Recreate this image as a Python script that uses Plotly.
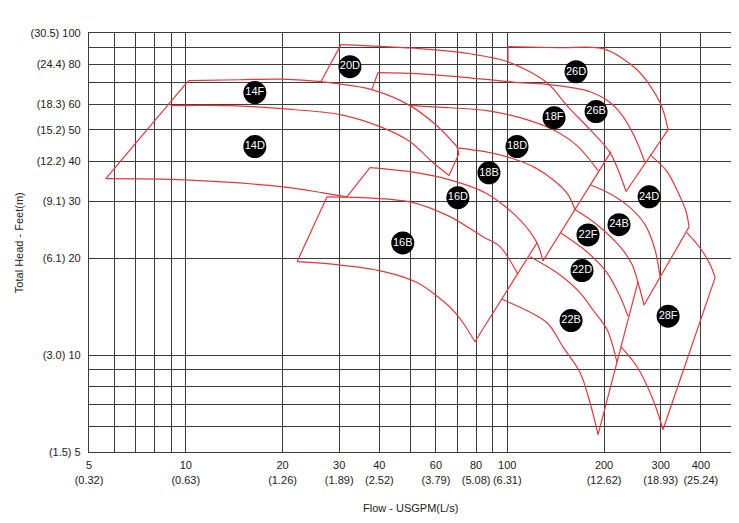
import plotly.graph_objects as go
import math

# ---------------- data (flow USGPM, head ft) ----------------
x_tickvals = [5, 6, 7, 8, 9, 10, 20, 30, 40, 50, 60, 70, 80, 90, 100, 200, 300, 400]
x_ticktext = ["5<br>(0.32)", "", "", "", "", "10<br>(0.63)", "20<br>(1.26)", "30<br>(1.89)",
              "40<br>(2.52)", "", "60<br>(3.79)", "", "80<br>(5.08)", "", "100<br>(6.31)",
              "200<br>(12.62)", "300<br>(18.93)", "400<br>(25.24)"]
y_tickvals = [5, 6, 7, 8, 9, 10, 20, 30, 40, 50, 60, 70, 80, 90, 100]
y_ticktext = ["(1.5) 5", "", "", "", "", "(3.0) 10", "(6.1) 20", "(9.1) 30", "(12.2) 40",
              "(15.2) 50", "(18.3) 60", "", "(24.4) 80", "", "(30.5) 100"]

# curves (smooth) as (flow, head)
curve_14F_top = [(10.2, 71.1), (14.7, 71.6), (20.0, 71.9), (26.3, 70.6), (37.9, 66.7), (49.8, 59.5), (60.4, 51.5), (69.7, 44.4)]
curve_14_mid = [(8.98, 59.5), (13.7, 59.5), (20.0, 58.2), (30.2, 55.8), (40.2, 51.2), (49.8, 46.0), (58.7, 39.6), (65.9, 36.1)]
curve_14D_bot = [(5.64, 35.3), (9.93, 35.0), (20.0, 33.3), (26.7, 31.9), (31.7, 31.0)]
curve_20D_top = [(30.4, 92.0), (53.5, 89.4), (76.5, 86.2), (100.5, 81.4), (132.9, 70.1), (154.5, 59.0), (180.9, 50.1), (208.8, 42.5), (234.1, 32.2)]
curve_26D_top = [(100.5, 90.7), (145.9, 90.0), (198.6, 89.4), (253.3, 76.9), (298.7, 60.8), (316.4, 50.1)]
curve_18F_top = [(39.6, 75.3), (53.5, 74.7), (76.5, 72.6), (109.5, 70.1), (135.8, 69.1), (180.9, 65.7), (208.8, 60.8), (229.1, 55.0), (249.7, 47.3), (268.2, 39.6)]
curve_18_mid1 = [(49.8, 59.5), (66.3, 58.6), (86.5, 57.4), (109.5, 54.6), (138.8, 50.1), (164.8, 44.7), (191.6, 37.4)]
curve_18_mid2 = [(69.7, 44.0), (85.2, 42.8), (102.0, 41.0), (122.0, 38.2), (138.8, 35.0), (154.5, 31.5), (162.4, 28.3)]
curve_16D_top = [(37.4, 38.2), (49.8, 37.1), (66.3, 35.0), (86.5, 31.7), (109.5, 26.3), (123.7, 22.3), (129.1, 19.6)]
curve_16B_top = [(27.5, 31.0), (49.8, 29.9), (66.3, 26.9), (84.0, 23.3), (94.9, 21.7), (108.0, 17.8)]
curve_16B_bot = [(22.2, 19.5), (29.5, 19.1), (41.0, 18.2), (52.4, 16.8), (66.3, 14.1), (72.8, 12.6), (79.3, 11.0)]
curve_22B_bot = [(96.3, 14.9), (132.9, 12.6), (149.0, 10.6), (168.4, 8.82), (180.9, 7.11), (191.6, 5.66)]
curve_22_mid1 = [(117.7, 20.2), (142.8, 18.0), (168.4, 15.6), (184.8, 13.8), (204.4, 12.0), (219.5, 9.47)]
curve_22_mid2 = [(145.9, 24.0), (177.0, 20.9), (204.4, 18.0), (224.3, 15.2), (237.5, 13.2)]
curve_22F_top = [(162.4, 28.3), (190.2, 25.4), (224.3, 21.7), (244.4, 19.1), (255.1, 16.8), (266.3, 14.3)]
curve_24D_top = [(278.0, 41.9), (314.1, 37.1), (344.8, 31.0), (359.9, 27.9), (367.7, 25.0)]
curve_24_mid = [(180.9, 33.8), (208.8, 31.7), (241.0, 28.7), (268.2, 25.4), (288.2, 21.2), (298.7, 17.5)]
curve_28F_top = [(362.0, 24.0), (397.9, 21.5), (427.5, 19.1), (443.1, 17.4)]
curve_28F_bot = [(225.9, 10.6), (253.3, 9.20), (284.1, 7.27), (305.1, 5.87)]

# straight edges as (flow, head)
edge_14_left = [(5.64, 35.3), (10.2, 71.1)]
edge_14_right = [(69.7, 44.4), (70.7, 42.2), (65.9, 36.1)]
edge_20_left = [(26.3, 70.6), (30.4, 92.0)]
edge_26_left = [(100.5, 90.7), (100.5, 81.4)]
edge_26_right = [(316.4, 50.1), (234.1, 32.2)]
edge_18_left = [(37.9, 66.7), (39.6, 75.3)]
edge_18_right = [(129.1, 19.6), (210.3, 42.8)]
edge_16D_left = [(31.7, 31.0), (37.4, 38.2)]
edge_16B_left = [(22.2, 19.5), (27.5, 31.0)]
edge_16_right = [(79.3, 11.0), (123.7, 22.3)]
edge_22_right = [(191.6, 5.66), (255.1, 16.9)]
edge_24_right = [(367.7, 25.0), (266.3, 14.3)]
edge_28_right = [(443.1, 17.4), (305.1, 5.87)]

labels = ["14F", "14D", "20D", "26D", "26B", "18F", "18D", "18B", "16D", "16B",
          "24D", "24B", "22F", "22D", "22B", "28F"]
label_flow = [16.4, 16.4, 32.4, 163.6, 188.9, 139.8, 107.2, 87.7, 70.2, 47.3,
              276.1, 222.6, 178.3, 170.8, 157.9, 316.4]
label_head = [65.3, 44.4, 78.6, 75.8, 57.0, 54.6, 44.4, 36.8, 30.8, 22.3,
              31.0, 25.4, 23.6, 18.3, 12.8, 13.2]

# ---------------- figure ----------------
RED = "#e5383b"
GRID = "#3c3c3c"
FONT = "Liberation Sans, Arial, Helvetica, sans-serif"

curves = [curve_14F_top, curve_14_mid, curve_14D_bot, curve_20D_top, curve_26D_top,
          curve_18F_top, curve_18_mid1, curve_18_mid2, curve_16D_top, curve_16B_top,
          curve_16B_bot, curve_22B_bot, curve_22_mid1, curve_22_mid2, curve_22F_top,
          curve_24D_top, curve_24_mid, curve_28F_top, curve_28F_bot]
edges = [edge_14_left, edge_14_right, edge_20_left, edge_26_left, edge_26_right,
         edge_18_left, edge_18_right, edge_16D_left, edge_16B_left, edge_16_right,
         edge_22_right, edge_24_right, edge_28_right]

fig = go.Figure()
for c in curves:
    fig.add_trace(go.Scatter(x=[p[0] for p in c], y=[p[1] for p in c], mode="lines",
                             line=dict(color=RED, width=1.2, shape="spline", smoothing=0.9),
                             hoverinfo="skip", showlegend=False))
for e in edges:
    fig.add_trace(go.Scatter(x=[p[0] for p in e], y=[p[1] for p in e], mode="lines",
                             line=dict(color=RED, width=1.2), hoverinfo="skip", showlegend=False))

fig.add_trace(go.Scatter(x=label_flow, y=label_head, mode="markers+text", text=labels,
                         textposition="middle center",
                         textfont=dict(color="white", size=11, family=FONT),
                         marker=dict(size=23, color="black"), hoverinfo="skip", showlegend=False))

# page body has an 8px margin: compensate so the plot lands on the reference pixels
OFF = 8
L, R, T, B = 89.3 - OFF, 7.1, 33.3 - OFF, 70.7
W, H = 739 - OFF, 523 - OFF
pw, ph = W - L - R, H - T - B

fig.update_layout(
    width=W, height=H, autosize=False,
    margin=dict(l=L, r=R, t=T, b=B, pad=0),
    paper_bgcolor="white", plot_bgcolor="white",
    font=dict(family=FONT, size=11, color="#222222"),
    xaxis=dict(type="log", range=[math.log10(5), math.log10(500)], tickmode="array",
               tickvals=x_tickvals, ticktext=x_ticktext, showgrid=True, gridcolor=GRID,
               gridwidth=1.2, showline=True, mirror=True, linecolor=GRID, linewidth=1.2,
               ticks="", zeroline=False, ticklabelstandoff=3),
    yaxis=dict(type="log", range=[math.log10(5), 2], tickmode="array",
               tickvals=y_tickvals, ticktext=y_ticktext, showgrid=True, gridcolor=GRID,
               gridwidth=1.2, showline=True, mirror=True, linecolor=GRID, linewidth=1.2,
               ticks="", zeroline=False, ticklabelstandoff=5),
    annotations=[
        dict(text="Flow - USGPM(L/s)", xref="paper", yref="paper", x=0.5,
             y=-(508 - 452.3) / ph, xanchor="center", yanchor="middle",
             showarrow=False, font=dict(size=11, family=FONT, color="#222222")),
        dict(text="Total Head - Feet(m)", xref="paper", yref="paper",
             x=(19 - 89.3) / pw, y=0.5, xanchor="center", yanchor="middle", textangle=-90,
             showarrow=False, font=dict(size=11, family=FONT, color="#222222")),
    ],
)

fig.write_html("out.html")
